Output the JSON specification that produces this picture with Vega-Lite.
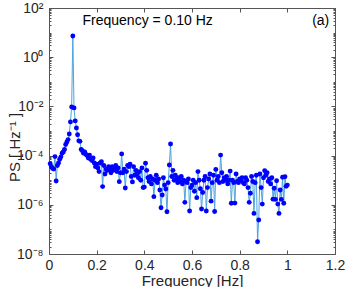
{
  "$schema": "https://vega.github.io/schema/vega-lite/v6.json",
  "width": 286,
  "height": 246,
  "autosize": {"type": "none"},
  "padding": {"left": 49, "top": 8, "right": 11, "bottom": 33},
  "config": {
    "font": "Liberation Sans",
    "view": {"stroke": null},
    "axis": {
      "grid": false,
      "domainColor": "#555555",
      "tickColor": "#555555",
      "labelColor": "#262626",
      "titleColor": "#262626",
      "labelFont": "Liberation Sans",
      "titleFont": "Liberation Sans",
      "labelFontSize": 14,
      "titleFontSize": 15,
      "titleFontWeight": "normal"
    }
  },
  "datasets": {
    "ps": [
      {"f":0.005,"ps":4.68e-5},{"f":0.010,"ps":3.55e-5},{"f":0.015,"ps":3.02e-5},{"f":0.020,"ps":2.82e-5},{"f":0.025,"ps":9.12e-5},
      {"f":0.030,"ps":9.33e-6},{"f":0.035,"ps":3.98e-5},{"f":0.040,"ps":5.01e-5},{"f":0.045,"ps":7.08e-5},{"f":0.050,"ps":8.91e-5},
      {"f":0.055,"ps":1.26e-4},{"f":0.060,"ps":1.41e-4},{"f":0.065,"ps":1.78e-4},{"f":0.070,"ps":2.82e-4},{"f":0.075,"ps":3.55e-4},
      {"f":0.080,"ps":4.47e-4},{"f":0.085,"ps":7.59e-4},{"f":0.090,"ps":2.34e-3},{"f":0.095,"ps":9.55e-3},{"f":0.100,"ps":7.24},
      {"f":0.105,"ps":8.71e-3},{"f":0.110,"ps":2.57e-3},{"f":0.115,"ps":1.32e-3},{"f":0.120,"ps":7.08e-4},{"f":0.125,"ps":3.98e-4},
      {"f":0.130,"ps":3.80e-4},{"f":0.135,"ps":1.78e-4},{"f":0.140,"ps":1.58e-4},{"f":0.145,"ps":1.26e-4},{"f":0.150,"ps":1.41e-4},
      {"f":0.155,"ps":1.12e-4},{"f":0.160,"ps":1.0e-4},{"f":0.165,"ps":7.94e-5},{"f":0.170,"ps":1.05e-4},{"f":0.175,"ps":7.08e-5},
      {"f":0.180,"ps":6.31e-5},{"f":0.185,"ps":7.94e-5},{"f":0.190,"ps":5.01e-5},{"f":0.195,"ps":3.55e-5},{"f":0.200,"ps":4.47e-5},
      {"f":0.205,"ps":3.16e-5},{"f":0.210,"ps":2.24e-5},{"f":0.215,"ps":5.01e-5},{"f":0.220,"ps":5.62e-5},{"f":0.225,"ps":5.50e-6},
      {"f":0.230,"ps":3.98e-5},{"f":0.235,"ps":1.78e-5},{"f":0.240,"ps":2.82e-5},{"f":0.245,"ps":2.51e-5},{"f":0.250,"ps":3.55e-5},
      {"f":0.255,"ps":2.82e-5},{"f":0.260,"ps":2.0e-5},{"f":0.265,"ps":3.55e-5},{"f":0.270,"ps":2.51e-5},{"f":0.275,"ps":2.82e-5},
      {"f":0.280,"ps":3.98e-5},{"f":0.285,"ps":2.24e-5},{"f":0.290,"ps":3.16e-5},{"f":0.295,"ps":8.71e-6},{"f":0.300,"ps":2.0e-5},
      {"f":0.305,"ps":1.17e-4},{"f":0.310,"ps":2.0e-5},{"f":0.315,"ps":2.82e-5},{"f":0.320,"ps":4.79e-6},{"f":0.325,"ps":2.24e-5},
      {"f":0.330,"ps":3.98e-5},{"f":0.335,"ps":3.55e-5},{"f":0.340,"ps":4.47e-5},{"f":0.345,"ps":1.41e-5},{"f":0.350,"ps":8.51e-6},
      {"f":0.355,"ps":3.55e-5},{"f":0.360,"ps":1.58e-5},{"f":0.365,"ps":2.51e-5},{"f":0.370,"ps":1.78e-5},{"f":0.375,"ps":1.26e-5},
      {"f":0.380,"ps":2.24e-5},{"f":0.385,"ps":1.0e-5},{"f":0.390,"ps":3.16e-5},{"f":0.395,"ps":5.01e-6},{"f":0.400,"ps":5.25e-6},
      {"f":0.405,"ps":4.90e-5},{"f":0.410,"ps":2.51e-5},{"f":0.415,"ps":1.26e-5},{"f":0.420,"ps":8.91e-6},{"f":0.425,"ps":1.41e-5},
      {"f":0.430,"ps":7.08e-6},{"f":0.435,"ps":1.12e-5},{"f":0.440,"ps":2.14e-6},{"f":0.445,"ps":1.0e-5},{"f":0.450,"ps":1.58e-5},
      {"f":0.455,"ps":7.94e-6},{"f":0.460,"ps":1.12e-5},{"f":0.465,"ps":3.98e-6},{"f":0.470,"ps":7.59e-7},{"f":0.475,"ps":2.51e-6},
      {"f":0.480,"ps":1.26e-5},{"f":0.485,"ps":6.31e-6},{"f":0.490,"ps":4.37e-6},{"f":0.495,"ps":5.25e-7},{"f":0.500,"ps":7.94e-6},
      {"f":0.505,"ps":4.17e-5},{"f":0.510,"ps":2.95e-4},{"f":0.515,"ps":1.41e-5},{"f":0.520,"ps":2.51e-5},{"f":0.525,"ps":1.0e-5},
      {"f":0.530,"ps":1.58e-5},{"f":0.535,"ps":1.12e-5},{"f":0.540,"ps":7.94e-6},{"f":0.545,"ps":1.26e-5},{"f":0.550,"ps":8.91e-6},
      {"f":0.555,"ps":1.41e-5},{"f":0.560,"ps":7.08e-6},{"f":0.565,"ps":1.0e-5},{"f":0.570,"ps":1.26e-6},{"f":0.575,"ps":8.91e-6},
      {"f":0.580,"ps":7.94e-6},{"f":0.585,"ps":1.12e-5},{"f":0.590,"ps":5.62e-7},{"f":0.595,"ps":5.01e-6},{"f":0.600,"ps":6.31e-6},
      {"f":0.605,"ps":1.0e-5},{"f":0.610,"ps":3.55e-6},{"f":0.615,"ps":7.94e-6},{"f":0.620,"ps":1.95e-6},{"f":0.625,"ps":2.24e-5},
      {"f":0.630,"ps":1.0e-5},{"f":0.635,"ps":4.47e-6},{"f":0.640,"ps":6.76e-7},{"f":0.645,"ps":3.16e-6},{"f":0.650,"ps":1.0e-5},
      {"f":0.655,"ps":1.41e-5},{"f":0.660,"ps":5.62e-7},{"f":0.665,"ps":5.01e-6},{"f":0.670,"ps":1.12e-5},{"f":0.675,"ps":1.78e-5},
      {"f":0.680,"ps":1.41e-6},{"f":0.685,"ps":7.94e-6},{"f":0.690,"ps":1.58e-5},{"f":0.695,"ps":5.37e-7},{"f":0.700,"ps":2.75e-5},
      {"f":0.705,"ps":1.0e-5},{"f":0.710,"ps":1.41e-5},{"f":0.715,"ps":7.94e-6},{"f":0.720,"ps":1.05e-4},{"f":0.725,"ps":2.0e-5},
      {"f":0.730,"ps":8.91e-6},{"f":0.735,"ps":1.26e-5},{"f":0.740,"ps":1.0e-5},{"f":0.745,"ps":1.41e-5},{"f":0.750,"ps":7.08e-6},
      {"f":0.755,"ps":1.0e-5},{"f":0.760,"ps":2.34e-5},{"f":0.765,"ps":1.15e-6},{"f":0.770,"ps":1.0e-5},{"f":0.775,"ps":7.94e-6},
      {"f":0.780,"ps":1.17e-6},{"f":0.785,"ps":1.78e-5},{"f":0.790,"ps":8.91e-6},{"f":0.795,"ps":7.94e-6},{"f":0.800,"ps":1.12e-5},
      {"f":0.805,"ps":1.0e-5},{"f":0.810,"ps":1.26e-5},{"f":0.815,"ps":7.94e-6},{"f":0.820,"ps":7.08e-6},{"f":0.825,"ps":1.26e-5},
      {"f":0.830,"ps":1.0e-5},{"f":0.835,"ps":5.01e-6},{"f":0.840,"ps":1.26e-6},{"f":0.845,"ps":2.95e-6},{"f":0.850,"ps":1.41e-5},
      {"f":0.855,"ps":8.91e-6},{"f":0.860,"ps":4.47e-7},{"f":0.865,"ps":7.94e-6},{"f":0.870,"ps":1.58e-5},{"f":0.875,"ps":3.16e-8},
      {"f":0.880,"ps":2.40e-7},{"f":0.885,"ps":1.78e-5},{"f":0.890,"ps":5.01e-6},{"f":0.895,"ps":1.07e-6},{"f":0.900,"ps":1.26e-5},
      {"f":0.905,"ps":2.45e-5},{"f":0.910,"ps":1.58e-5},{"f":0.915,"ps":2.0e-5},{"f":0.920,"ps":8.91e-6},{"f":0.925,"ps":1.12e-5},
      {"f":0.930,"ps":7.08e-6},{"f":0.935,"ps":1.26e-5},{"f":0.940,"ps":1.70e-6},{"f":0.945,"ps":4.68e-6},{"f":0.950,"ps":1.66e-6},
      {"f":0.955,"ps":9.55e-6},{"f":0.960,"ps":1.07e-6},{"f":0.965,"ps":4.47e-7},{"f":0.970,"ps":3.98e-6},{"f":0.975,"ps":1.66e-6},
      {"f":0.980,"ps":1.32e-5},{"f":0.985,"ps":1.15e-6},{"f":0.990,"ps":1.38e-5},{"f":0.995,"ps":5.62e-6},{"f":1.000,"ps":6.31e-6}
    ]
  },
  "resolve": {"axis": {"x": "independent", "y": "independent"}},
  "layer": [
    {
      "data": {"name": "ps"},
      "mark": {"type": "line", "color": "#4da3e0", "strokeWidth": 1},
      "encoding": {
        "x": {
          "field": "f", "type": "quantitative",
          "scale": {"domain": [0, 1.2], "nice": false, "zero": false},
          "axis": {"orient": "bottom", "title": "Frequency [Hz]", "values": [0, 0.2, 0.4, 0.6, 0.8, 1, 1.2], "format": "~g", "tickSize": -4, "labelPadding": 8, "titleBaseline": "top", "titleY": 19, "labelFlush": false}
        },
        "y": {
          "field": "ps", "type": "quantitative",
          "scale": {"type": "log", "domain": [1e-8, 100], "nice": false},
          "axis": {"orient": "left", "title": "PS [ Hz⁻¹ ]", "values": [1e-8, 1e-6, 1e-4, 1e-2, 1, 100],
            "labelExpr": "['10⁻⁸','','10⁻⁶','','10⁻⁴','','10⁻²','','10⁰','','10²'][round(log(datum.value)/LN10)+8]",
            "tickSize": -4, "labelPadding": 10, "titleX": -35, "titleY": 139, "titleAngle": 270, "titleAlign": "center", "titleBaseline": "middle", "labelFlush": false}
        }
      }
    },
    {
      "data": {"name": "ps"},
      "mark": {"type": "point", "filled": true, "color": "#0000ff", "opacity": 1, "size": 24},
      "encoding": {
        "x": {"field": "f", "type": "quantitative",
          "axis": {"orient": "top", "title": null, "labels": false, "values": [0, 0.2, 0.4, 0.6, 0.8, 1, 1.2], "tickSize": -4}},
        "y": {"field": "ps", "type": "quantitative",
          "axis": {"orient": "right", "title": null, "labels": false, "values": [1e-8, 1e-6, 1e-4, 1e-2, 1, 100], "tickSize": -4}}
      }
    },
    {
      "data": {"values": [{"f": 0.414, "ps": 30, "label": "Frequency = 0.10 Hz"}]},
      "mark": {"type": "text", "fontSize": 14, "color": "#000000", "font": "Liberation Sans", "align": "center", "baseline": "middle"},
      "encoding": {
        "x": {"field": "f", "type": "quantitative", "axis": null},
        "y": {"field": "ps", "type": "quantitative",
          "axis": {"orient": "left", "title": null, "labels": false, "domain": false, "tickSize": -2,
            "values": [2e-8,3e-8,4e-8,5e-8,6e-8,7e-8,8e-8,9e-8,1e-7,2e-7,3e-7,4e-7,5e-7,6e-7,7e-7,8e-7,9e-7,1e-6,2e-6,3e-6,4e-6,5e-6,6e-6,7e-6,8e-6,9e-6,1e-5,2e-5,3e-5,4e-5,5e-5,6e-5,7e-5,8e-5,9e-5,1e-4,2e-4,3e-4,4e-4,5e-4,6e-4,7e-4,8e-4,9e-4,1e-3,2e-3,3e-3,4e-3,5e-3,6e-3,7e-3,8e-3,9e-3,1e-2,2e-2,3e-2,4e-2,5e-2,6e-2,7e-2,8e-2,9e-2,0.1,0.2,0.3,0.4,0.5,0.6,0.7,0.8,0.9,1,2,3,4,5,6,7,8,9,10,20,30,40,50,60,70,80,90]}},
        "text": {"field": "label"}
      }
    },
    {
      "data": {"values": [{"f": 1.14, "ps": 30, "label": "(a)"}]},
      "mark": {"type": "text", "fontSize": 14, "color": "#000000", "font": "Liberation Sans", "align": "center", "baseline": "middle"},
      "encoding": {
        "x": {"field": "f", "type": "quantitative", "axis": null},
        "y": {"field": "ps", "type": "quantitative",
          "axis": {"orient": "right", "title": null, "labels": false, "domain": false, "tickSize": -2,
            "values": [2e-8,3e-8,4e-8,5e-8,6e-8,7e-8,8e-8,9e-8,1e-7,2e-7,3e-7,4e-7,5e-7,6e-7,7e-7,8e-7,9e-7,1e-6,2e-6,3e-6,4e-6,5e-6,6e-6,7e-6,8e-6,9e-6,1e-5,2e-5,3e-5,4e-5,5e-5,6e-5,7e-5,8e-5,9e-5,1e-4,2e-4,3e-4,4e-4,5e-4,6e-4,7e-4,8e-4,9e-4,1e-3,2e-3,3e-3,4e-3,5e-3,6e-3,7e-3,8e-3,9e-3,1e-2,2e-2,3e-2,4e-2,5e-2,6e-2,7e-2,8e-2,9e-2,0.1,0.2,0.3,0.4,0.5,0.6,0.7,0.8,0.9,1,2,3,4,5,6,7,8,9,10,20,30,40,50,60,70,80,90]}},
        "text": {"field": "label"}
      }
    }
  ]
}
